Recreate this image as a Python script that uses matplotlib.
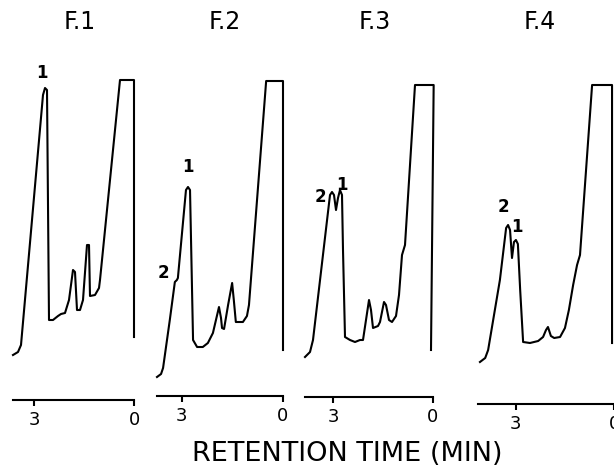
import matplotlib
matplotlib.use('Agg')
import matplotlib.pyplot as plt

# === Traces: retention time (min) vs detector response (arb. units) ===
f1_time = [3.63, 3.48, 3.39, 2.73, 2.67, 2.61, 2.55, 2.43, 2.28, 2.19, 2.07, 1.95, 1.83, 1.77,
           1.71, 1.62, 1.53, 1.41, 1.35, 1.32, 1.17, 1.05, 1.02, 0.42, 0.00, 0.00]
f1_resp = [45, 48, 55, 305, 312, 310, 80, 80, 84, 86, 87, 100, 130, 128,
           90, 90, 100, 155, 155, 104, 105, 112, 120, 320, 320, 63]

f2_time = [3.74, 3.62, 3.56, 3.36, 3.21, 3.15, 3.12, 2.88, 2.82, 2.76, 2.67, 2.55, 2.38, 2.23,
           2.08, 1.99, 1.90, 1.84, 1.81, 1.75, 1.63, 1.51, 1.46, 1.40, 1.19, 1.07, 1.01, 0.50,
           0.00, 0.00]
f2_resp = [19, 22, 28, 76, 114, 116, 118, 206, 209, 206, 56, 49, 49, 53,
           63, 76, 89, 78, 68, 67, 91, 113, 96, 74, 74, 80, 91, 315,
           315, 46]

f3_time = [3.84, 3.69, 3.60, 3.09, 3.03, 2.97, 2.91, 2.85, 2.79, 2.73, 2.70, 2.64, 2.49, 2.34,
           2.19, 2.10, 2.01, 1.92, 1.86, 1.80, 1.65, 1.59, 1.47, 1.41, 1.32, 1.23, 1.11, 1.02,
           0.93, 0.84, 0.54, -0.02, 0.06]
f3_resp = [40, 45, 57, 202, 205, 202, 187, 199, 207, 202, 147, 60, 57, 55,
           57, 57, 77, 97, 87, 69, 71, 75, 95, 92, 77, 75, 81, 102,
           142, 152, 312, 312, 47]

f4_time = [4.10, 3.94, 3.85, 3.49, 3.30, 3.24, 3.18, 3.12, 3.06, 3.00, 2.94, 2.87, 2.78, 2.57,
           2.32, 2.17, 2.08, 2.02, 1.93, 1.83, 1.65, 1.50, 1.38, 1.25, 1.13, 1.04, 0.67, 0.06,
           0.06]
f4_resp = [42, 46, 54, 124, 176, 179, 174, 146, 162, 164, 160, 114, 62, 61,
           63, 67, 74, 77, 68, 66, 67, 76, 94, 119, 139, 149, 319, 319,
           61]

panel_titles = ['F.1', 'F.2', 'F.3', 'F.4']
tick_values = [3, 0]
tick_labels = ['3', '0']

# peak numbering: (label, time, response)
f1_peaks = [('1', 2.76, 327)]
f2_peaks = [('1', 2.82, 229), ('2', 3.56, 123)]
f3_peaks = [('2', 3.39, 200), ('1', 2.73, 212)]
f4_peaks = [('2', 3.39, 197), ('1', 2.97, 177)]

W, H = 614, 469


def px_axes(fig, left, right, top, bottom):
    # axes rect given in image pixels (origin top-left)
    return fig.add_axes([left / W, (H - bottom) / H, (right - left) / W, (bottom - top) / H])


def draw_panel(fig, box, t_start, time, resp, peaks, title, title_x):
    left, right, top, bottom = box
    ax = px_axes(fig, left, right, top, bottom)
    ax.plot(time, resp, color='black', lw=1.5, clip_on=False, solid_joinstyle='round')
    ax.set_xlim(t_start, 0)
    ax.set_ylim(0, bottom - top)

    for lab, t, r in peaks:
        ax.text(t, r, lab, ha='center', va='center', fontsize=12, fontweight='bold')

    for s in ['left', 'right', 'top']:
        ax.spines[s].set_visible(False)
    ax.spines['bottom'].set_linewidth(1.5)
    ax.set_yticks([])
    ax.set_xticks(tick_values)
    ax.set_xticklabels(tick_labels, fontsize=13)
    ax.tick_params(axis='x', direction='out', length=4, width=1.5, pad=4)
    ax.patch.set_visible(False)

    fig.text(title_x / W, 1 - 22 / H, title, ha='center', va='center', fontsize=17)
    return ax


def main():
    fig = plt.figure(figsize=(W / 100, H / 100), dpi=100)

    draw_panel(fig, (13, 134, 60, 400), 3.63, f1_time, f1_resp, f1_peaks, panel_titles[0], 80)
    draw_panel(fig, (157, 283, 60, 396), 3.74, f2_time, f2_resp, f2_peaks, panel_titles[1], 225)
    draw_panel(fig, (305, 433, 60, 397), 3.84, f3_time, f3_resp, f3_peaks, panel_titles[2], 375)
    draw_panel(fig, (478, 614, 60, 404), 4.16, f4_time, f4_resp, f4_peaks, panel_titles[3], 540)

    fig.text(347 / W, 1 - 454 / H, 'RETENTION TIME (MIN)', ha='center', va='center', fontsize=19.5)

    fig.savefig('out.png', dpi=100)


if __name__ == "__main__":
    main()
